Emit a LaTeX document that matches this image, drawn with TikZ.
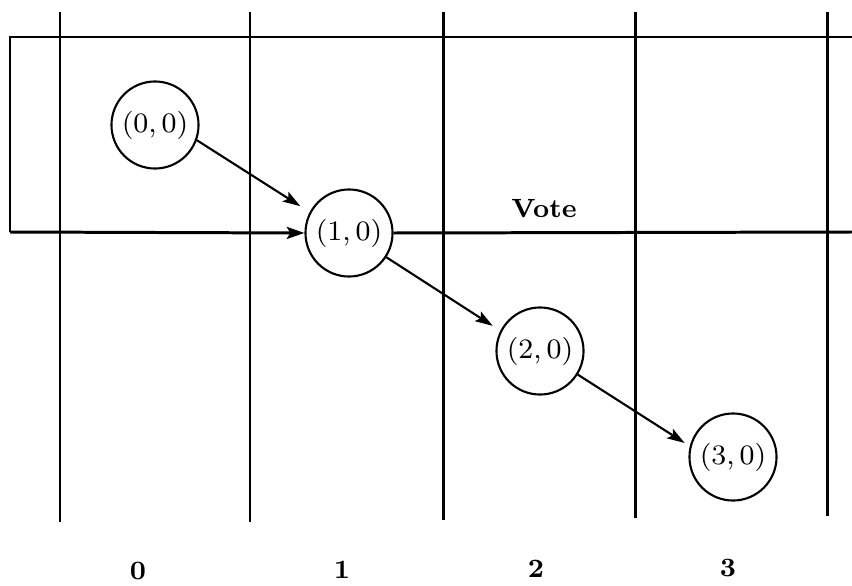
\documentclass[tikz,border=0pt]{standalone}
\usetikzlibrary{arrows.meta}
\begin{document}
\begin{tikzpicture}[x=0.01cm,y=-0.01cm,
	estado/.style={draw,circle,line width=0.6pt,minimum size=0.87cm,inner sep=0pt,font=\fontsize{8.5}{10}\selectfont},
	linea/.style={line width=0.85pt},
	flecha/.style={-{Stealth[length=5pt,width=3.2pt,inset=1pt]},line width=0.6pt},
	etiqueta/.style={font=\bfseries\fontsize{7.5}{9}\selectfont}]
	\useasboundingbox (0,0) rectangle (852,585);

		%Dibuja las lineas verticales
		\draw[linea] (60,12) -- (60,522);
		\draw[linea] (250,12) -- (250,522);
		\draw[linea] (443,12) -- (443,520);
		\draw[linea] (635,12) -- (635,518);
		\draw[linea] (827,12) -- (827,516);

		%Rectangulo abierto de la izquierda
		\draw[linea] (852,37) -- (10,37) -- (10,232) coordinate (esq);

		%Estados
		\node[estado] (c0) at (155,125) {$(0,0)$};
		\node[estado] (c1) at (349,233) {$(1,0)$};
		\node[estado] (c2) at (540,351) {$(2,0)$};
		\node[estado] (c3) at (733,457) {$(3,0)$};

		%Linea de abajo que entra en (1,0)
		\draw[linea,-{Stealth[length=5pt,width=3.4pt,inset=1pt]}] (esq) -- (c1.west);
		\draw[linea] (c1.east) -- (852,232);
		\node[etiqueta] (vote) at (544,209) {Vote};

		%Flechas entre estados
		\draw[flecha,shorten >=0.11cm] (c0.-20) -- (c1.152);
		\draw[flecha,shorten >=0.09cm] (c1.-33) -- (c2.153);
		\draw[flecha,shorten >=0.06cm] (c2.-32) -- (c3.166);

		%Numeros de abajo
		\node[etiqueta] (n0) at (138,571) {0};
		\node[etiqueta] (n1) at (342,570) {1};
		\node[etiqueta] (n2) at (536,569) {2};
		\node[etiqueta] (n3) at (728,568) {3};

\end{tikzpicture}
\end{document}
